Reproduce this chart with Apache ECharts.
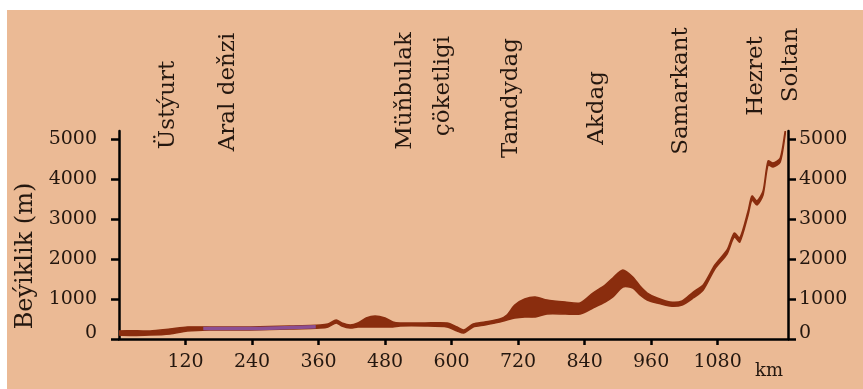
<!DOCTYPE html>
<html>
<head>
<meta charset="utf-8">
<title>profile</title>
<script src="https://cdn.jsdelivr.net/npm/echarts@6/dist/echarts.min.js"></script>
<style>
  html, body { margin: 0; padding: 0; }
  body {
    width: 863px; height: 389px;
    background: linear-gradient(#ebba95, #ebba95) 7px 10px / 856px 379px no-repeat, #fff;
  }
  #chart { width: 863px; height: 389px; }
</style>
</head>
<body>
<div id="chart"></div>
<script>
// distance along the profile (km) and the top / bottom edge of the drawn band (m)
var profileKm = [0, 56, 92, 123, 164, 236, 308, 363, 377, 392, 402, 417, 431, 446, 462, 480, 494, 507, 552, 592,
  610, 622, 639, 660, 687, 700, 714, 732, 751, 772, 805, 832, 855, 877, 891, 909, 927, 940, 953, 971,
  994, 1016, 1036, 1054, 1075, 1097, 1110, 1120, 1135, 1142, 1151, 1162, 1171, 1180, 1193, 1202];
var profileTop = [200, 200, 250, 300, 300, 300, 325, 350, 375, 475, 400, 350, 400, 525, 575, 525, 425, 400, 400, 400,
  300, 225, 375, 425, 500, 600, 850, 1000, 1050, 975, 925, 900, 1150, 1350, 1525, 1725, 1550, 1325, 1150, 1025,
  925, 950, 1175, 1350, 1850, 2225, 2650, 2525, 3200, 3575, 3450, 3700, 4450, 4400, 4525, 5200];
var profileBottom = [100, 100, 125, 200, 225, 225, 250, 275, 300, 400, 325, 275, 300, 300, 300, 300, 300, 325, 325, 300,
  200, 150, 300, 350, 425, 475, 525, 550, 550, 625, 625, 625, 775, 925, 1050, 1300, 1275, 1100, 975, 900,
  825, 850, 1025, 1225, 1750, 2125, 2550, 2425, 3100, 3475, 3350, 3600, 4350, 4300, 4425, 5125];

// Aral sea stretch, drawn in purple
var aralKm = [152, 164, 236, 308, 355];
var aralElev = [262, 262, 262, 287, 305];

var xTicks = [120, 240, 360, 480, 600, 720, 840, 960, 1080];
var yTicks = [0, 1000, 2000, 3000, 4000, 5000];

var placeNames = ['Üstýurt', 'Aral deňzi', 'Müňbulak', 'çöketligi', 'Tamdydag', 'Akdag', 'Samarkant', 'Hezret', 'Soltan'];
var placeKm = [88, 197, 516, 585, 707, 862, 1014, 1149, 1212];
var placeMidY = [105, 92, 91, 86, 98, 108, 91, 76, 65];

var brown = '#8a2d0e';
var ink = '#24170f';
var serif = '"DejaVu Serif", "Liberation Serif", serif';

var bandData = profileKm.map(function (k, i) { return [k, profileTop[i], profileBottom[i]]; });
var aralData = aralKm.map(function (k, i) { return [k, aralElev[i]]; });

// the whole band is one polygon: along the top edge, back along the bottom edge
function renderBand(params, api) {
  if (params.dataIndex !== 0) return null;
  var pts = [];
  for (var i = 0; i < profileKm.length; i++) pts.push(api.coord([profileKm[i], profileTop[i]]));
  for (var j = profileKm.length - 1; j >= 0; j--) pts.push(api.coord([profileKm[j], profileBottom[j]]));
  return {
    type: 'polygon',
    shape: { points: pts, smooth: 0.25 },
    style: { fill: brown, stroke: brown, lineWidth: 1.5 }
  };
}

function yAxisFor(pos, margin) {
  return {
    type: 'value', position: pos, min: 0, max: 5200,
    splitLine: { show: false },
    axisLine: { show: true, lineStyle: { color: '#000', width: 2.5 } },
    axisTick: { show: true, length: 8, customValues: yTicks, lineStyle: { color: '#000', width: 2.5 } },
    axisLabel: {
      customValues: yTicks, margin: margin, color: ink, fontFamily: serif, fontSize: 19,
      formatter: function (v) { return v === 0 ? '{z|0}' : String(v); },
      rich: { z: { color: ink, fontFamily: serif, fontSize: 19, padding: [0, 0, 12, 0] } }
    }
  };
}

var myChart = echarts.init(document.getElementById('chart'));
myChart.setOption({
  animation: false,
  backgroundColor: 'transparent',
  grid: { left: 119, right: 75, top: 131, bottom: 50 },
  xAxis: {
    type: 'value', min: 0, max: 1207,
    splitLine: { show: false },
    axisLine: { onZero: false, lineStyle: { color: '#000', width: 2.5 } },
    axisTick: { length: 6, customValues: xTicks, lineStyle: { color: '#000', width: 2.5 } },
    axisLabel: {
      customValues: xTicks, margin: 14, color: ink, fontFamily: serif, fontSize: 19,
      formatter: function (v) { return String(v); }
    }
  },
  yAxis: [yAxisFor('left', 22), yAxisFor('right', 11)],
  series: [
    {
      type: 'custom', data: bandData, renderItem: renderBand,
      encode: { x: 0, y: [1, 2] }, clip: true
    },
    {
      type: 'line', data: aralData, symbol: 'none', smooth: 0.3,
      lineStyle: { color: '#8b4f94', width: 3.5 }, z: 3
    }
  ]
});

var labels = placeNames.map(function (name, i) {
  return {
    type: 'text',
    x: myChart.convertToPixel({ xAxisIndex: 0 }, placeKm[i]),
    y: placeMidY[i],
    rotation: Math.PI / 2,
    style: { text: name, fill: ink, font: '23px ' + serif, align: 'center', verticalAlign: 'middle' }
  };
});
labels.push({
  type: 'text', x: 26, y: 256, rotation: Math.PI / 2,
  style: { text: 'Beýiklik (m)', fill: ink, font: '24px ' + serif, align: 'center', verticalAlign: 'middle' }
});
labels.push({
  type: 'text', x: 755, y: 371,
  style: { text: 'km', fill: ink, font: '18px ' + serif, align: 'left', verticalAlign: 'middle' }
});
myChart.setOption({ graphic: labels });
</script>
</body>
</html>
